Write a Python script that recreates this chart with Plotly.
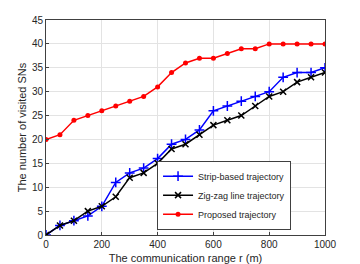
import plotly.graph_objects as go

r = [0, 50, 100, 150, 200, 250, 300, 350, 400, 450, 500, 550, 600, 650, 700, 750, 800, 850, 900, 950, 1000]
strip = [0, 2, 3, 4, 6, 11, 13, 14, 16, 19, 20, 22, 26, 27, 28, 29, 30, 33, 34, 34, 35]
zigzag = [0, 2, 3, 5, 6, 8, 12, 13, 15, 18, 19, 21, 23, 24, 25, 27, 29, 30, 32, 33, 34]
proposed = [20, 21, 24, 25, 26, 27, 28, 29, 31, 34, 36, 37, 37, 38, 39, 39, 40, 40, 40, 40, 40]

fig = go.Figure()
fig.add_trace(go.Scatter(x=r, y=strip, mode="lines+markers", name="Strip-based trajectory",
                         line=dict(color="#0000ff", width=1.5),
                         marker=dict(symbol="cross-thin", size=7, line=dict(color="#0000ff", width=1.5))))
fig.add_trace(go.Scatter(x=r, y=zigzag, mode="lines+markers", name="Zig-zag line trajectory",
                         line=dict(color="#000000", width=1.5),
                         marker=dict(symbol="x-thin", size=6, line=dict(color="#000000", width=1.5))))
fig.add_trace(go.Scatter(x=r, y=proposed, mode="lines+markers", name="Proposed trajectory",
                         line=dict(color="#ff0000", width=1.5),
                         marker=dict(symbol="circle", size=5, color="#ff0000")))

axis_common = dict(showline=True, linecolor="#404040", linewidth=1, mirror=True,
                   showgrid=True, gridcolor="#e3e3e3", gridwidth=1, zeroline=False,
                   ticks="inside", ticklen=3, tickcolor="#404040", automargin=False,
                   tickfont=dict(family="Liberation Sans, Arial", size=10, color="#262626"))

# the page body adds an 8px offset, so the figure is 352x256 with margins reduced accordingly
fig.update_layout(
    width=352, height=256,
    margin=dict(l=38, r=35, t=12, b=29, autoexpand=False),
    paper_bgcolor="white", plot_bgcolor="white",
    xaxis=dict(range=[0, 1000], tickvals=[0, 200, 400, 600, 800, 1000],
               title=dict(text="The communication range r (m)",
                          font=dict(family="Liberation Sans, Arial", size=11, color="#262626")),
               **axis_common),
    yaxis=dict(range=[0, 45], tickvals=[0, 5, 10, 15, 20, 25, 30, 35, 40, 45],
               title=dict(text="The number of visited SNs", standoff=3,
                          font=dict(family="Liberation Sans, Arial", size=11, color="#262626")),
               **axis_common),
    legend=dict(x=0.398, y=0.025, xanchor="left", yanchor="bottom",
                bgcolor="white", bordercolor="#404040", borderwidth=1,
                font=dict(family="Liberation Sans, Arial", size=9, color="#262626"),
                tracegroupgap=0, itemwidth=30),
    showlegend=True,
)

fig.write_html("out.html")
